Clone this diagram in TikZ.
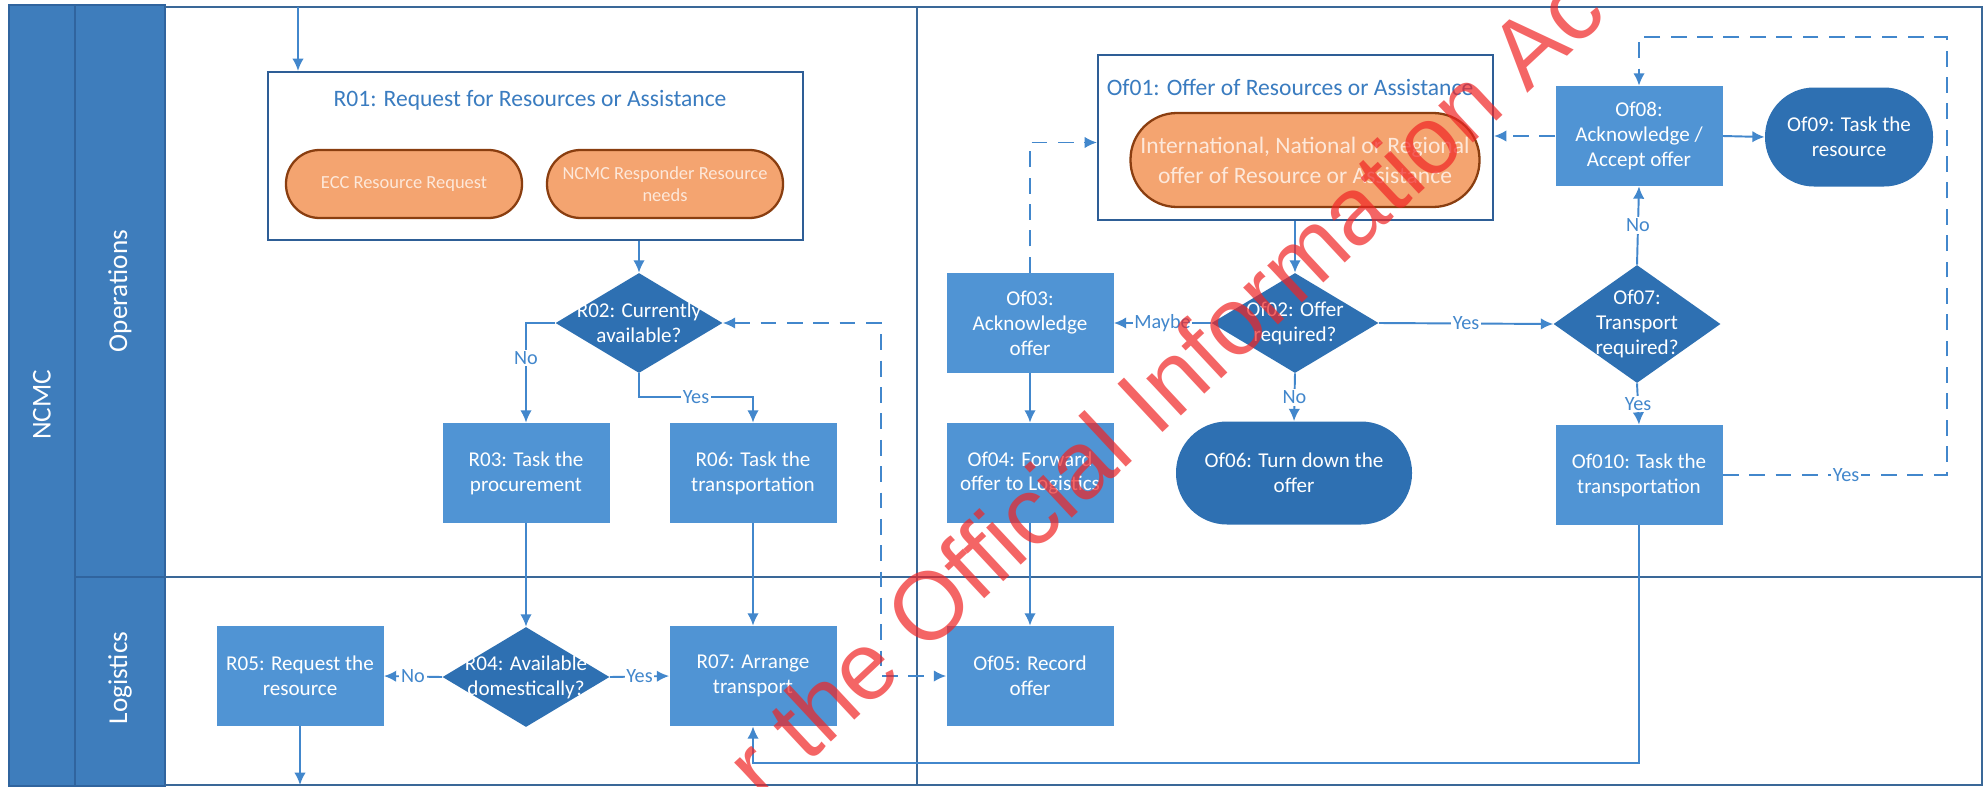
\documentclass[tikz,border=0pt]{standalone}
\usepackage{fontspec}
\setmainfont{Carlito}
\newfontfamily\wmfont{Liberation Sans}
\usetikzlibrary{shapes.geometric,arrows.meta,positioning}

\definecolor{laneblue}{RGB}{62,125,188}
\definecolor{laneedge}{RGB}{48,100,158}
\definecolor{boxblue}{RGB}{80,148,212}
\definecolor{decblue}{RGB}{46,112,178}
\definecolor{linecol}{RGB}{66,135,204}
\definecolor{framecol}{RGB}{58,104,152}
\definecolor{grpedge}{RGB}{46,94,150}
\definecolor{grptext}{RGB}{58,124,192}
\definecolor{reqfill}{RGB}{244,164,112}
\definecolor{reqedge}{RGB}{138,62,16}
\definecolor{reqtext}{RGB}{253,232,218}
\definecolor{wmred}{RGB}{240,36,36}

\tikzset{
  lanebar/.style={draw=laneedge, line width=0.6pt, fill=laneblue},
  lanetxt/.style={text=white, rotate=90, font=\fontsize{15.5}{18}\selectfont},
  frameline/.style={draw=framecol, line width=1.3pt},
  group/.style={rectangle, draw=grpedge, line width=1.2pt, fill=white, inner sep=0pt},
  grptitle/.style={text=grptext, inner sep=0pt, font=\fontsize{13.4}{16}\selectfont},
  request/.style={rectangle, rounded corners=6.7mm, fill=reqfill, draw=reqedge, line width=1.3pt,
    minimum width=47.2mm, minimum height=13.6mm, inner sep=0pt, align=center, text=reqtext,
    font=\fontsize{10.5}{12.5}\selectfont},
  procbox/.style={rectangle, fill=boxblue, text=white, minimum width=33.4mm, minimum height=20mm,
    inner sep=0pt, align=center, font=\fontsize{12}{14.2}\selectfont},
  terminal/.style={procbox, fill=decblue, rounded corners=9.8mm},
  decision/.style={diamond, fill=decblue, minimum width=33.4mm, minimum height=20mm, inner sep=0pt},
  dectxt/.style={text=white, align=center, inner sep=0pt, font=\fontsize{12}{14.2}\selectfont},
  flow/.style={draw=linecol, line width=1.1pt, -{Latex[length=7pt,width=6.5pt]}},
  dflow/.style={flow, dash pattern=on 9pt off 6pt},
  lbl/.style={fill=white, inner sep=1pt, text=linecol, font=\fontsize{11.5}{13}\selectfont},
  wmark/.style={text=wmred, opacity=0.7, inner sep=0pt, font=\wmfont\fontsize{54.6}{60}\selectfont}
}

\begin{document}
\begin{tikzpicture}[x=0.2mm,y=-0.2mm]
\useasboundingbox (0,0) rectangle (1986,786);
\fill[white] (0,0) rectangle (1986,786);

\draw[lanebar] (9,5) rectangle (75,786);
\draw[lanebar] (75,5) rectangle (165,577);
\draw[lanebar] (75,577) rectangle (165,786);
\draw[frameline] (165,7) -- (1982,7) -- (1982,785) -- (165,785);
\draw[frameline] (165,577) -- (1982,577);
\draw[frameline] (917,7) -- (917,786);
\node[lanetxt] (ncmc) at (42,405) {NCMC};
\node[lanetxt] (ops) at (120,291) {Operations};
\node[lanetxt] (logi) at (120,678) {Logistics};

\node[group, minimum width=107mm, minimum height=33.6mm] (R01) at (535.5,156) {};
\node[grptitle] (R01t) at (530,100) {R01: Request for Resources or Assistance};
\node[request] (ecc) at (404,184) {ECC Resource Request};
\node[request] (resp) at (665,184) {NCMC Responder Resource\\needs};

\node[group, minimum width=79mm, minimum height=33mm] (Of01) at (1295.5,137.5) {};
\node[grptitle] (Of01t) at (1290,87) {Of01: Offer of Resources or Assistance};
\node[request, rounded corners=9.3mm, minimum width=69.8mm, minimum height=18.8mm,
  font=\fontsize{13.4}{17}\selectfont] (intl) at (1305,160)
  {International, National or Regional\\offer of Resource or Assistance};

\node[decision, label={[dectxt]center:{R02: Currently\\available?}}] (R02) at (639,323) {};
\node[procbox] (R03) at (526,473) {R03: Task the\\procurement};
\node[decision, label={[dectxt]center:{R04: Available\\domestically?}}] (R04) at (526,677) {};
\node[procbox] (R05) at (300,676) {R05: Request the\\resource};
\node[procbox] (R06) at (753,473) {R06: Task the\\transportation};
\node[procbox] (R07) at (753,676) {R07: Arrange\\transport};

\node[decision, label={[dectxt]center:{Of02: Offer\\required?}}] (Of02) at (1295,323) {};
\node[procbox] (Of03) at (1030,323) {Of03:\\Acknowledge\\offer};
\node[procbox] (Of04) at (1030,473) {Of04: Forward\\offer to Logistics};
\node[procbox] (Of05) at (1030,676) {Of05: Record\\offer};
\node[terminal, minimum width=47.2mm, minimum height=20.6mm, rounded corners=10.2mm] (Of06) at (1294,473) {Of06: Turn down the\\offer};
\node[decision, minimum height=23.6mm, label={[dectxt]center:{Of07:\\Transport\\required?}}] (Of07) at (1637,324) {};
\node[procbox] (Of08) at (1639,136) {Of08:\\Acknowledge /\\Accept offer};
\node[terminal, minimum width=33.6mm, minimum height=19.8mm] (Of09) at (1849,137) {Of09: Task the\\resource};
\node[procbox] (Of010) at (1639,475) {Of010: Task the\\transportation};

\coordinate (topin) at (298,7);
\coordinate (botout) at (298,785);
\coordinate (retY) at (0,763);
\coordinate (dashX) at (881,500);
\coordinate (loopR) at (1947,37);

\draw[flow] (topin) -- (topin |- R01.north);
\draw[flow] (R02.north |- R01.south) -- (R02.north);
\draw[flow] (R02.west) -| node[lbl,pos=0.675]{No} (R03.north);
\draw[flow] (R02.south) -- ++(0,24) -| node[lbl,pos=0.25]{Yes} (R06.north);
\draw[flow] (R03.south) -- (R04.north);
\draw[flow] (R04.west) -- node[lbl]{No} (R05.east);
\draw[flow] (R04.east) -- node[lbl]{Yes} (R07.west);
\draw[flow] (R06.south) -- (R07.north);
\draw[flow] (R05.south) -- (R05.south |- botout);
\draw[dflow, {Latex[length=7pt,width=6.5pt]}-{Latex[length=7pt,width=6.5pt]}] (R02.east) -| (dashX) |- (Of05.west);

\draw[flow] (Of02.north |- Of01.south) -- (Of02.north);
\draw[flow] (Of02.west) -- node[lbl]{Maybe} (Of03.east);
\draw[flow] (Of02.east) -- node[lbl]{Yes} (Of07.west);
\draw[flow] (Of02.south) -- node[lbl]{No} (Of06.north);
\draw[dflow] (Of03.north) |- ([yshift=-1mm]Of01.west);
\draw[flow] (Of03.south) -- (Of04.north);
\draw[flow] (Of04.south) -- (Of05.north);
\draw[flow] (Of07.north) -- node[lbl]{No} (Of08.south);
\draw[flow] (Of07.south) -- node[lbl]{Yes} (Of010.north);
\draw[flow] (Of08.east) -- (Of09.west);
\draw[dflow] (Of08.west) -- (Of01.east |- Of08.west);
\draw[dflow] (Of010.east) -| node[lbl,pos=0.275]{Yes} (loopR) -| (Of08.north);
\draw[flow] (Of010.south) -- (Of010.south |- retY) -| (R07.south);

\begin{scope}
\clip (0,0) rectangle (1986,786);
\node[wmark, rotate=43, anchor=base west] (wm) at (764,805) {r the Official Information Ac};
\end{scope}
\end{tikzpicture}
\end{document}
